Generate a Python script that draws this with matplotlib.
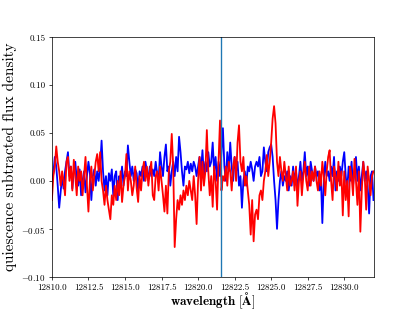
import matplotlib
matplotlib.use("Agg")
import matplotlib.pyplot as plt
import numpy as np

# DATA (flux in units of 1e-3, sampled every 0.1 A from 12810.0)
WL_START = 12810.0
WL_STEP = 0.1
LINE_CENTER = 12821.55

blue_flux = [
    0, 8, 25, 15, -5, -28, -12, 5, -8, 10,
    20, 30, 5, 15, -8, 10, 20, 2, -5, 12,
    -15, 0, 10, -12, 5, 20, 8, -20, 5, 12,
    -5, 10, 0, 15, 42, 10, -10, 5, -15, 8,
    0, 12, -15, 5, 10, -20, 5, 0, 15, -5,
    10, 5, 37, 20, 5, 15, 0, 12, 8, -10,
    10, 5, 15, 0, 20, 10, 2, 15, 5, 12,
    5, 20, 8, 0, 30, 15, 5, 25, 38, 10,
    15, -5, 10, 20, 5, 25, 10, 46, 30, 10,
    -5, 15, 12, 20, 8, 18, 10, 20, 15, 5,
    15, 25, 10, 32, 5, 20, 10, 30, 15, 20,
    40, 10, 25, 0, 20, 5, 30, 55, 15, 0,
    30, 10, 40, 15, 0, 25, 10, 20, -5, 5,
    -28, 0, 10, -5, 15, 10, 20, 12, 0, 15,
    20, 15, 25, 5, 10, 35, 20, 10, 30, 35,
    38, 25, 0, -20, -50, -20, 0, 10, -5, 5,
    0, 10, -10, 5, -5, 15, 0, 10, -8, 5,
    20, 0, 10, 30, 5, 15, -5, 20, 10, 0,
    15, 5, 10, -10, 5, -44, 0, 20, 5, 10,
    0, 15, 5, 25, -10, 10, 0, 15, 5, 20,
    30, 5, -10, 15, 0, 20, -5, 10, 25, 0,
    15, -10, 5, 20, 0, 10, -5, -34, 5, 10,
    -20,
]

red_flux = [
    -20, 5, 15, 36, 20, 10, -5, 10, 0, -15,
    20, 25, 0, 15, -10, 22, 5, -15, 15, 0,
    10, -15, 5, 25, -5, -32, 0, 15, -10, 5,
    20, 28, 10, 30, 0, -10, -25, -5, -20, -30,
    -40, -15, -25, -5, -20, 0, -15, 10, -22, -5,
    5, 28, -10, 10, 0, -15, -5, 15, -8, -22,
    5, -10, 10, 20, 0, 15, -5, 10, 20, -15,
    -20, 5, 10, -10, 15, 0, -15, -32, -5, -34,
    10, 20, 49, 15, -69, -40, -20, -30, -15, -25,
    -10, -20, -5, -15, 0, -10, -20, 5, -15, -45,
    0, 25, -10, 20, -5, 10, 53, 10, -15, 5,
    -27, 15, 0, -30, 20, 63, -10, 5, 0, 15,
    -5, 20, 10, -10, 15, 25, 0, 40, 58, 20,
    10, 25, -5, 5, -10, -25, -56, -20, -63, -35,
    -30, -40, -15, -10, -20, 0, 10, 27, 5, 20,
    40, 65, 78, 60, 20, 5, 25, 10, 0, 20,
    5, -10, 15, -5, 0, 10, -10, 15, -26, 0,
    10, -15, 5, 20, 0, -10, 15, -5, 10, 0,
    15, 0, -10, 10, -5, 20, 5, -15, 10, 25,
    32, 0, -20, 15, 5, -10, 20, -5, 10, -36,
    10, -20, 0, -37, 15, 5, -15, 23, 0, -25,
    10, -53, -10, 20, 5, -30, 15, 0, -15, 5,
    10,
]

# STYLE
plt.rcParams['font.family'] = 'serif'
plt.rcParams['font.serif'] = ['cmr10']
plt.rcParams['mathtext.fontset'] = 'cm'
plt.rcParams['axes.formatter.use_mathtext'] = True

wl = WL_START + WL_STEP * np.arange(len(blue_flux))
blue = np.array(blue_flux) / 1000.0
red = np.array(red_flux) / 1000.0

fig = plt.figure(figsize=(6.4, 4.8), dpi=415 / 6.4)
ax = fig.add_subplot(111)

ax.plot(wl, blue, color='b', lw=2)
ax.plot(wl, red, color='r', lw=2)
ax.axvline(LINE_CENTER, lw=1.5)

ax.set_xlim(12810, 12832)
ax.set_ylim(-0.10, 0.15)
xt = np.arange(12810, 12831, 2.5)
ax.set_xticks(xt)
ax.set_xticklabels(["%.1f" % t for t in xt])
yt = np.arange(-0.10, 0.151, 0.05)
ax.set_yticks(yt)
ax.set_yticklabels([r"$%.2f$" % t if t < -1e-9 else "%.2f" % abs(t) for t in yt])

ax.set_xlabel(r"$\mathbf{wavelength\ [\AA]}$", fontsize=14.5, labelpad=-1)
ax.set_ylabel("quiescence subtracted flux density", fontsize=17, labelpad=4)

fig.savefig("out.png", dpi=415 / 6.4)
